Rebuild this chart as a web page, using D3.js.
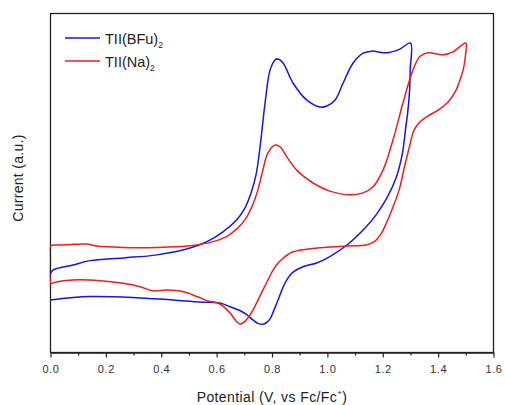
<!DOCTYPE html>
<html>
<head>
<meta charset="utf-8">
<script src="https://cdn.jsdelivr.net/npm/d3@7"></script>
<style>
  html, body { margin: 0; padding: 0; background: #fff; }
  svg { display: block; font-family: Arial, "Liberation Sans", sans-serif; }
</style>
</head>
<body>
<svg id="chart" width="505" height="405"></svg>
<script>
// Cyclic voltammograms: potential (V vs Fc/Fc+) and current (arbitrary units)
const potentialBFu = [0.000, 0.009, 0.081, 0.143, 0.262, 0.385, 0.504, 0.565, 0.623, 0.672, 0.700, 0.724, 0.742, 0.757, 0.775, 0.793, 0.811, 0.822, 0.840, 0.876, 0.925, 0.973, 0.998, 1.028, 1.057, 1.093, 1.129, 1.160, 1.214, 1.262, 1.300,
  1.299, 1.297, 1.291, 1.282, 1.270, 1.248, 1.215, 1.176, 1.136, 1.071, 1.009, 0.961, 0.912, 0.876, 0.858, 0.840, 0.822, 0.807, 0.793, 0.778, 0.764, 0.749, 0.731, 0.710, 0.684, 0.648, 0.612, 0.540, 0.442, 0.323, 0.143, 0.000];
const currentBFu = [23.2, 24.3, 25.8, 27.1, 27.9, 28.8, 30.8, 32.7, 35.6, 39.1, 42.3, 47.0, 52.3, 60.7, 73.6, 83.3, 86.3, 86.6, 85.4, 79.5, 74.5, 72.4, 72.7, 74.5, 79.5, 85.4, 88.3, 88.9, 88.4, 89.5, 91.3,
  83.3, 77.4, 71.5, 65.6, 58.3, 51.5, 45.6, 40.6, 36.7, 31.7, 28.3, 26.4, 25.3, 23.7, 22.0, 19.3, 15.5, 12.5, 9.9, 8.7, 8.3, 8.6, 9.6, 11.1, 12.4, 13.5, 14.6, 14.9, 15.5, 16.1, 16.5, 15.5];

const potentialNa = [0.000, 0.000, 0.030, 0.081, 0.131, 0.167, 0.262, 0.384, 0.504, 0.587, 0.636, 0.672, 0.703, 0.730, 0.750, 0.767, 0.785, 0.811, 0.829, 0.853, 0.889, 0.948, 1.009, 1.082, 1.129, 1.165, 1.201, 1.237, 1.273, 1.309, 1.334, 1.363, 1.418, 1.454, 1.500,
  1.499, 1.492, 1.479, 1.461, 1.436, 1.400, 1.364, 1.334, 1.313, 1.298, 1.280, 1.259, 1.237, 1.215, 1.194, 1.168, 1.140, 1.071, 0.948, 0.876, 0.840, 0.822, 0.804, 0.767, 0.731, 0.710, 0.695, 0.684, 0.670, 0.648, 0.612, 0.565, 0.529, 0.479, 0.421, 0.370, 0.323, 0.262, 0.179, 0.081, 0.004, 0.000];
const currentNa = [20.2, 31.4, 31.7, 31.9, 32.0, 31.4, 31.0, 31.0, 31.5, 32.7, 34.2, 36.4, 39.2, 43.5, 48.2, 53.8, 58.8, 61.2, 60.7, 57.8, 53.8, 50.0, 47.6, 46.5, 47.1, 48.9, 53.8, 62.7, 73.6, 83.3, 87.3, 88.4, 87.8, 88.7, 91.3,
  87.8, 83.9, 80.4, 76.8, 73.9, 71.5, 69.8, 68.0, 65.6, 61.2, 55.3, 47.9, 42.9, 38.5, 35.0, 32.6, 31.7, 31.4, 30.7, 29.7, 27.8, 26.4, 24.3, 18.4, 12.5, 9.9, 8.7, 8.4, 9.3, 11.7, 14.3, 15.3, 16.5, 17.9, 18.4, 18.2, 19.4, 20.4, 21.2, 21.4, 20.4, 20.2];

const seriesNames = ["TII(BFu)", "TII(Na)"];
const seriesColors = ["#1515e6", "#ee1c1c"];
const xMajorTicks = [0.0, 0.2, 0.4, 0.6, 0.8, 1.0, 1.2, 1.4, 1.6];
const xMinorTicks = [0.1, 0.3, 0.5, 0.7, 0.9, 1.1, 1.3, 1.5];

const svg = d3.select("#chart");
const plotLeft = 50.5, plotRight = 493.5, plotTop = 13.5, plotBottom = 352.5;

const x = d3.scaleLinear().domain([0, 1.6]).range([plotLeft, plotRight]);
const y = d3.scaleLinear().domain([0, 100]).range([plotBottom, plotTop]);

const series = [
  potentialBFu.map((e, i) => [e, currentBFu[i]]),
  potentialNa.map((e, i) => [e, currentNa[i]])
];

const line = d3.line()
  .x(d => x(d[0]))
  .y(d => y(d[1]))
  .curve(d3.curveCatmullRom.alpha(0.5));

// keep the traces inside the plot frame (they may sit on the left axis line)
svg.append("defs").append("clipPath").attr("id", "plot-clip")
  .append("rect")
  .attr("x", plotLeft - 0.8).attr("y", plotTop - 2)
  .attr("width", plotRight - plotLeft + 0.8).attr("height", plotBottom - plotTop + 2);

// plot frame
svg.append("rect")
  .attr("x", plotLeft).attr("y", plotTop)
  .attr("width", plotRight - plotLeft).attr("height", plotBottom - plotTop)
  .attr("fill", "none").attr("stroke", "#222").attr("stroke-width", 1.3);

// curves
const curves = svg.append("g").attr("clip-path", "url(#plot-clip)");
series.forEach((s, i) => {
  curves.append("path")
    .datum(s)
    .attr("d", line)
    .attr("fill", "none")
    .attr("stroke", seriesColors[i])
    .attr("stroke-width", 1.5)
    .attr("stroke-linejoin", "round");
});

// x axis: major ticks with labels, minor ticks without
const xAxis = d3.axisBottom(x)
  .tickValues(xMajorTicks)
  .tickFormat(d3.format(".1f"))
  .tickSize(5)
  .tickSizeOuter(0);
const gx = svg.append("g")
  .attr("transform", `translate(0,${plotBottom})`)
  .call(xAxis);
gx.select(".domain").attr("stroke", "#222").attr("stroke-width", 1.3);
gx.selectAll(".tick line").attr("stroke", "#222").attr("stroke-width", 1.2);
gx.selectAll(".tick text")
  .attr("font-size", 11)
  .attr("letter-spacing", 0.6)
  .attr("fill", "#333")
  .attr("dy", "0.71em")
  .attr("y", 13);

const xMinor = d3.axisBottom(x).tickValues(xMinorTicks).tickFormat("").tickSize(3).tickSizeOuter(0);
const gxm = svg.append("g").attr("transform", `translate(0,${plotBottom})`).call(xMinor);
gxm.select(".domain").remove();
gxm.selectAll(".tick line").attr("stroke", "#222").attr("stroke-width", 1.2);

// axis titles
const xt = svg.append("text")
  .attr("x", (plotLeft + plotRight) / 2).attr("y", 402)
  .attr("text-anchor", "middle").attr("font-size", 14)
  .attr("letter-spacing", 0.4).attr("fill", "#222");
xt.append("tspan").text("Potential (V, vs Fc/Fc");
xt.append("tspan").attr("font-size", 8).attr("dy", -7).text("+");
xt.append("tspan").attr("dy", 7).text(")");

svg.append("text")
  .attr("transform", `translate(23,${(plotTop + plotBottom) / 2 - 5}) rotate(-90)`)
  .attr("text-anchor", "middle").attr("font-size", 14)
  .attr("letter-spacing", 0.3).attr("fill", "#222")
  .text("Current (a.u.)");

// legend
const legendY = [38, 61];
seriesNames.forEach((name, i) => {
  svg.append("line")
    .attr("x1", 65).attr("x2", 100)
    .attr("y1", legendY[i]).attr("y2", legendY[i])
    .attr("stroke", seriesColors[i]).attr("stroke-width", 1.5);
  const t = svg.append("text")
    .attr("x", 105).attr("y", legendY[i] + 5.5)
    .attr("font-size", 14.5).attr("fill", "#222");
  t.append("tspan").text(name);
  t.append("tspan").attr("font-size", 8.5).attr("dy", 4).text("2");
});
</script>
</body>
</html>
